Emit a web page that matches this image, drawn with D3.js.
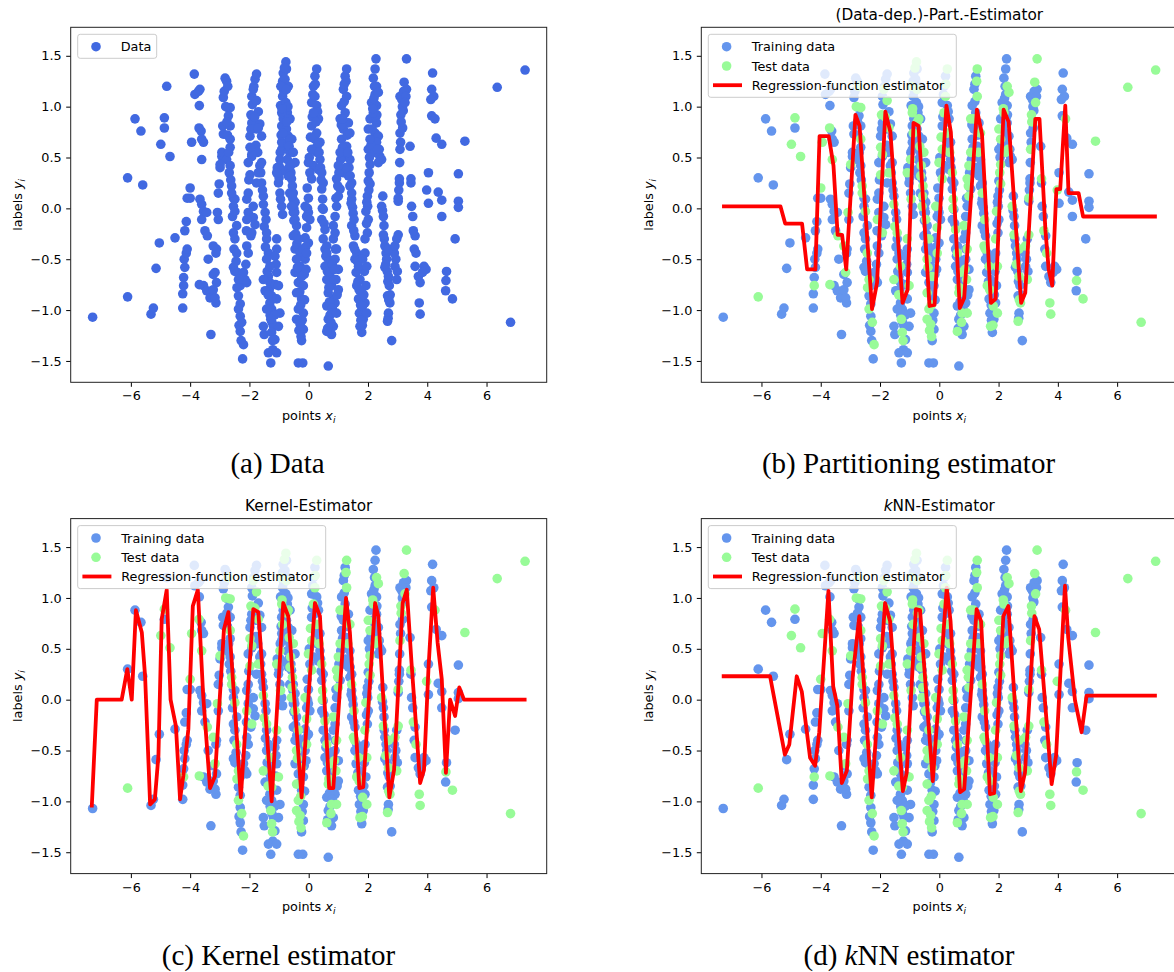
<!DOCTYPE html>
<html lang="en">
<head>
<meta charset="UTF-8">
<title>Regression estimators</title>
<script src="https://cdn.jsdelivr.net/npm/d3@7"></script>
<style>
  body { margin: 0; background: #fff; }
</style>
</head>
<body>
<svg id="fig" width="1174" height="972"></svg>
<script>
// training points [x, y]
const trainData = [
  [-7.29,-1.07],[-6.11,0.30],[-5.86,0.88],[-5.66,0.76],[-5.60,0.23],[-5.32,-1.04],[-5.24,-0.98],[-5.15,-0.59],[-5.04,-0.34],[-4.87,0.79],[-4.79,1.20],[-4.51,-0.29],
  [-4.25,-0.98],[-4.25,-0.84],[-4.22,-0.68],[-4.18,-0.58],[-4.20,-0.50],[-4.13,-0.44],[-4.10,-0.40],[-4.18,-0.22],[-4.13,-0.13],[-4.10,0.10],[-4.00,0.10],
  [-3.86,1.32],[-3.84,1.12],[-3.72,1.15],[-3.67,1.17],[-3.69,1.01],[-3.63,0.76],[-3.61,0.68],[-3.55,0.65],[-3.67,0.09],[-3.61,0.04],[-3.55,-0.03],[-3.61,-0.11],[-3.44,-0.04],[-3.50,-0.22],[-3.39,-0.50],[-3.55,-0.76],[-3.44,-0.81],[-3.33,-0.88],[-3.30,-1.24],
  [-3.22,-0.65],[-3.11,-0.73],[-3.22,-0.80],[-3.13,-0.93],[-3.16,-0.88],[-3.11,-0.40],[-3.13,-0.44],[-3.05,-0.11],[-3.05,0.15],[-3.02,0.24],[-2.99,0.40],[-2.93,0.51],[-2.93,0.55],[-2.88,0.73],[-2.90,0.81],[-2.88,1.09],[-2.82,1.28],[-2.77,1.25],
  [-2.73,0.99],[-2.71,0.91],[-2.65,0.81],[-2.65,0.60],[-2.77,0.48],[-2.65,0.42],[-2.54,0.10],[-2.49,0.09],[-2.54,0.02],[-2.43,-0.17],[-2.54,-0.24],[-2.49,-0.30],[-2.54,-0.58],[-2.49,-0.62],[-2.40,-0.63],[-2.31,-0.76],[-2.37,-0.86],[-2.31,-0.94],[-2.31,-1.06],[-2.31,-1.21],[-2.23,-1.48],
  [-2.85,1.15],[-2.76,0.85],[-2.74,0.72],[-2.70,0.55],[-2.68,0.35],[-2.63,0.28],[-2.57,-0.08],[-2.52,-0.40],[-2.45,-0.52],[-2.35,-1.15],[-2.28,-1.30],
  [-2.09,-0.73],[-2.15,-0.70],[-2.20,-0.63],[-2.09,-0.37],[-2.04,-0.04],[-2.09,0.09],[-2.04,0.15],[-2.04,0.45],[-1.92,0.51],[-1.98,0.71],[-1.92,0.84],[-1.90,1.02],[-1.92,1.10],[-1.81,1.27],[-1.76,1.32],[-1.87,-0.09],[-1.95,-0.27],[-2.04,-0.44],[-1.81,-0.16],[-1.87,0.02],[-1.76,0.25],[-1.65,0.42],[-1.59,0.45],[-1.76,0.78],[-1.65,0.83],[-1.59,0.71],[-1.70,0.95],
  [-2.12,-0.55],[-2.10,-0.22],[-2.02,0.28],[-1.95,0.78],[-1.85,1.20],[-1.78,0.62],[-1.72,0.55],
  [-1.59,0.25],[-1.53,0.12],[-1.47,-0.04],[-1.44,-0.11],[-1.42,-0.30],[-1.36,-0.44],[-1.42,-0.50],[-1.36,-0.67],[-1.31,-0.73],[-1.33,-0.80],[-1.31,-0.93],[-1.25,-0.99],[-1.19,-1.03],[-1.19,-1.16],[-1.14,-1.29],[-1.21,-1.39],[-1.36,-1.42],[-1.08,-1.42],[-1.28,-1.52],[-1.47,-0.81],[-1.42,-0.99],[-1.08,-0.40],[-1.14,-0.47],[-1.08,-0.63],[-1.08,-0.89],[-0.97,-1.03],[-1.02,-1.16],[-1.53,-1.16],[-1.50,-1.24],
  [-1.62,0.35],[-1.56,0.18],[-1.46,-0.38],[-1.40,-0.62],[-1.30,-1.05],[-1.24,-1.12],[-1.15,-1.05],[-1.12,-0.75],[-1.10,-0.55],
  [-1.06,0.40],[-1.02,0.25],[-0.97,0.15],[-0.91,0.02],[-0.88,-0.06],[-0.99,0.41],[-0.91,0.58],[-0.91,0.65],[-0.91,0.81],[-0.86,0.88],[-0.95,1.01],[-0.88,1.10],[-0.88,1.25],[-0.86,1.33],[-0.75,1.37],[-0.80,1.27],[-0.77,1.04],[-0.72,0.94],[-0.75,0.78],[-0.69,0.71],[-0.64,0.55],[-0.72,0.48],[-0.69,0.32],[-0.58,0.29],[-0.64,0.15],[-0.53,0.09],[-0.47,-0.04],
  [-0.69,1.20],[-0.63,0.88],[-0.57,0.68],[-0.46,0.45],[-0.86,0.37],[-0.52,0.15],[-0.46,0.06],
  [-1.00,0.30],[-0.96,0.55],[-0.93,0.72],[-0.84,1.15],[-0.78,1.18],[-0.70,0.62],[-0.67,0.40],[-0.60,0.35],[-0.50,0.00],[-0.62,0.68],[-0.70,1.00],
  [-0.52,-0.04],[-0.41,-0.17],[-0.52,-0.27],[-0.46,-0.40],[-0.29,-0.44],[-0.29,-0.57],[-0.46,-0.63],[-0.35,-0.73],[-0.18,-0.76],[-0.24,-0.89],[-0.18,-1.03],[-0.18,-1.19],[-0.24,-1.30],[-0.35,-1.52],[-0.20,-1.52],
  [-0.50,-0.12],[-0.44,-0.25],[-0.40,-0.35],[-0.33,-0.62],[-0.30,-0.82],[-0.22,-1.10],[-0.20,-0.40],[-0.15,-0.65],[-0.14,-0.90],
  [-0.01,0.10],[-0.07,-0.08],[-0.01,-0.04],[0.04,-0.11],[-0.12,-0.29],[-0.01,-0.34],[-0.12,-0.50],[-0.09,-0.60],[0.21,1.30],[0.16,1.20],[0.10,1.04],[0.27,1.01],[0.33,0.88],[0.10,0.81],[0.21,0.68],[0.38,0.65],[0.27,0.55],[0.38,0.48],[0.16,0.42],[0.04,0.35],[0.33,0.38],[0.49,0.25],[0.44,0.19],[0.49,-0.01],[0.44,-0.11],[0.49,-0.30],[0.55,-0.40],[0.61,-0.37],
  [-0.05,0.20],[0.02,0.50],[0.12,0.90],[0.14,1.12],[0.30,0.95],[0.25,0.85],[0.18,0.58],[0.30,0.62],[0.40,0.40],[0.42,0.28],[0.52,-0.15],[-0.04,0.00],[-0.10,-0.38],
  [0.66,-0.50],[0.55,-0.57],[0.61,-0.70],[0.77,-0.76],[0.83,-0.89],[0.61,-0.96],[0.66,-1.09],[0.83,-1.16],[0.77,-1.24],[0.83,-0.30],[0.89,-0.50],[1.00,-0.60],[1.00,-0.80],[0.89,-0.93],[0.66,-1.55],[0.72,-1.21],
  [0.58,-0.47],[0.63,-0.62],[0.70,-0.92],[0.72,-1.05],[0.80,-0.98],[0.85,-0.70],[0.90,-0.40],[0.96,-0.85],[0.64,-1.18],[0.80,-0.55],
  [1.23,1.30],[1.17,1.17],[1.11,1.01],[1.23,0.94],[1.34,0.84],[1.17,0.78],[1.11,0.68],[1.28,0.61],[1.23,0.51],[1.39,0.48],[1.17,0.35],[1.34,0.32],[1.45,0.25],[1.06,0.19],[0.94,0.02],[0.89,-0.08],[0.89,-0.24],
  [0.92,0.10],[1.02,0.35],[1.08,0.48],[1.14,0.60],[1.20,1.05],[1.20,1.22],[1.30,0.72],[1.36,0.40],[1.25,0.40],[1.10,0.82],[1.40,0.32],
  [1.39,0.22],[1.45,0.09],[1.48,0.01],[1.45,-0.17],[1.56,-0.27],[1.62,-0.44],[1.56,-0.50],[1.60,-0.63],[1.73,-0.70],[1.79,-0.83],[1.68,-0.89],[1.71,-1.03],[1.84,-1.09],[1.79,-1.22],[1.90,-0.44],[1.93,-0.76],[1.90,-0.93],
  [1.43,0.05],[1.50,-0.05],[1.52,-0.22],[1.64,-0.52],[1.66,-0.72],[1.75,-0.95],[1.76,-1.10],[1.86,-0.85],[1.88,-0.62],[1.82,-0.50],
  [2.27,1.47],[2.24,1.37],[2.18,1.28],[2.24,1.12],[2.12,1.04],[2.29,1.01],[2.07,0.88],[2.29,0.84],[2.24,0.74],[2.35,0.71],[2.29,0.65],[2.01,0.58],[2.40,0.51],[2.46,0.48],[2.35,0.45],[2.01,0.27],[1.98,0.12],[1.96,0.06],[2.01,-0.11],[1.98,-0.24],
  [1.95,-0.15],[1.99,0.02],[2.03,0.18],[2.05,0.50],[2.10,0.62],[2.14,0.78],[2.20,1.08],[2.22,1.20],[2.26,0.90],[2.30,0.92],[2.38,0.58],
  [2.50,0.12],[2.52,-0.08],[2.54,-0.17],[2.57,-0.37],[2.61,-0.44],[2.63,-0.50],[2.57,-0.58],[2.72,-0.76],[2.66,-0.86],[2.69,-1.03],[2.80,-1.30],[2.91,-0.57],[2.89,-0.44],[2.97,-0.30],
  [2.49,-0.02],[2.55,-0.30],[2.65,-0.62],[2.67,-0.72],[2.75,-0.85],[2.68,-1.08],[2.94,-0.50],[2.99,-0.62],
  [3.02,0.07],[3.06,0.25],[3.06,0.29],[3.08,0.74],[3.17,0.79],[3.19,0.96],[3.14,1.07],[3.08,1.10],[3.30,1.17],[3.45,0.25],[3.42,0.61],
  [3.04,0.18],[3.07,0.45],[3.10,0.65],[3.16,1.00],[3.20,1.15],[3.28,1.10],
  [3.47,0.02],[3.51,-0.08],[3.59,-0.27],[3.56,-0.40],[3.59,-0.57],[3.70,-0.67],[3.76,-0.73],[3.89,-0.57],[3.96,-0.60],[3.84,-0.63],
  [4.18,1.33],[4.15,1.17],[4.22,1.10],[4.12,1.07],[4.15,0.91],[4.30,0.69],[4.49,0.63],[4.04,0.35],[4.04,0.05],[4.37,0.16],[4.49,0.08],[4.49,-0.08],[5.05,0.34],[5.05,0.07],[5.05,0.01],[4.94,-0.30],[4.65,-0.62],[4.62,-0.81]
];

// test points [x, y]
const testData = [
  [-6.11,-0.87],[-4.99,0.63],[-4.87,0.89],[-4.68,0.51],[-4.22,-0.76],[-4.00,0.20],[-3.70,0.79],[-3.95,0.65],[-3.61,0.48],[-3.42,-0.27],[-3.69,-0.75],
  [-3.16,-0.63],[-3.22,-0.37],[-3.08,-0.04],[-2.99,0.43],[-2.73,1.20],
  [-2.65,0.99],[-2.65,0.68],[-2.60,0.22],[-2.49,-0.03],[-2.43,-0.44],[-2.37,-0.70],[-2.37,-0.99],[-2.26,-1.12],[-2.20,-1.34],
  [-2.80,1.00],[-2.60,0.15],[-2.42,-0.78],
  [-2.09,-0.11],[-1.98,0.33],[-1.92,0.53],[-1.95,0.92],[-1.87,1.17],[-1.92,-0.24],[-1.70,0.35],[-1.70,0.79],[-1.76,1.06],
  [-1.98,0.60],[-1.82,0.90],
  [-1.53,0.04],[-1.42,-0.24],[-1.31,-0.57],[-1.25,-0.86],[-1.28,-1.09],[-1.25,-1.22],[-1.53,-0.70],[-1.08,-0.30],[-1.02,-0.76],
  [-1.50,-0.18],[-1.37,-0.85],[-1.22,-1.30],
  [-1.08,0.35],[-0.95,0.09],[-0.97,0.48],[-0.88,0.74],[-0.91,0.94],[-0.94,1.20],[-0.77,1.44],[-0.75,1.17],[-0.69,0.88],[-0.66,0.61],[-0.61,0.42],[-0.55,0.22],[-0.58,0.02],
  [-0.52,0.55],[-0.63,0.32],[-0.90,0.98],[-0.74,0.85],[-0.56,0.12],[-0.82,1.38],
  [-0.46,-0.11],[-0.35,-0.30],[-0.41,-0.50],[-0.24,-0.67],[-0.41,-0.83],[-0.35,-0.99],[-0.41,-1.09],[-0.29,-1.14],[-0.26,-1.26],
  [-0.38,-0.58],[-0.27,-0.95],[-0.33,-1.20],
  [-0.12,0.02],[-0.07,-0.19],[-0.07,-0.44],[0.27,1.37],[0.21,1.10],[0.16,0.94],[0.27,0.74],[0.10,0.58],[-0.01,0.45],[0.10,0.29],[0.44,0.35],[0.47,0.09],[0.55,-0.21],
  [0.06,0.70],[0.22,1.22],[0.35,0.55],[0.46,0.00],
  [0.61,-0.44],[0.72,-0.63],[0.66,-0.83],[0.77,-1.03],[0.61,-1.21],[0.94,-0.40],[0.92,-0.70],[0.94,-1.03],
  [0.68,-0.78],[0.75,-1.12],[0.87,-0.60],
  [1.28,1.37],[1.28,1.10],[1.06,0.88],[1.39,0.74],[1.06,0.55],[1.00,0.42],[0.94,0.29],[1.00,0.12],[0.83,-0.17],
  [0.98,0.22],[1.15,0.88],[1.26,1.25],[1.32,0.55],
  [1.45,0.15],[1.53,-0.11],[1.51,-0.37],[1.68,-0.57],[1.62,-0.76],[1.82,-0.96],[1.73,-1.16],[1.96,-0.57],[1.96,-1.03],
  [1.55,-0.40],[1.70,-0.80],[1.81,-1.15],
  [2.29,1.20],[2.35,1.14],[2.18,0.94],[2.01,0.78],[2.07,0.68],[2.24,0.55],[2.07,0.43],[2.07,0.24],[1.93,-0.03],[1.90,-0.30],
  [2.04,0.35],[2.16,0.98],[2.32,0.58],
  [2.46,0.02],[2.52,-0.26],[2.69,-0.40],[2.69,-0.67],[2.74,-0.93],[2.66,-1.11],[2.97,-0.70],[2.91,-0.37],[3.02,-0.26],
  [2.60,-0.55],[2.70,-0.90],
  [3.02,0.10],[3.08,0.58],[3.11,0.92],[3.25,1.04],[3.22,1.24],[3.30,1.47],[3.45,0.29],[3.12,0.85],
  [3.53,-0.22],[3.62,-0.44],[3.73,-0.93],[3.76,-1.04],
  [4.26,0.88],[5.27,0.66],[3.98,0.18],[4.63,-0.71],[4.85,-0.89],[7.30,1.36],[6.36,1.19],[6.81,-1.12]
];

// regression-function estimators (vertices of the drawn curves)
const partX = [-7.33,-5.36,-5.20,-4.63,-4.46,-4.18,-4.04,-3.73,-3.57,-3.43,-3.28,-3.14,-2.83,-2.69,-2.27,-2.10,-1.82,-1.65,-1.24,-1.07,-0.87,-0.70,-0.33,-0.16,0.24,0.39,0.69,0.84,1.27,1.44,1.74,1.90,2.17,2.34,2.76,2.90,3.24,3.38,3.58,3.69,3.81,3.95,4.08,4.25,4.36,4.70,4.85,7.34];
const partY = [0.02,0.02,-0.15,-0.15,-0.60,-0.60,0.71,0.71,0.42,-0.26,-0.26,-0.60,0.92,0.81,-0.99,-0.73,0.95,0.75,-0.93,-0.80,0.84,0.81,-0.96,-0.95,1.01,0.75,-0.98,-0.88,0.97,0.73,-0.93,-0.89,0.97,0.85,-0.93,-0.83,0.88,0.88,-0.21,-0.60,-0.76,0.19,0.19,1.01,0.15,0.15,-0.08,-0.08];

const kernelX = [-7.32,-7.15,-6.31,-6.12,-5.97,-5.83,-5.63,-5.52,-5.35,-5.19,-5.07,-4.96,-4.79,-4.66,-4.48,-4.34,-4.23,-4.06,-3.91,-3.74,-3.56,-3.33,-3.16,-2.86,-2.71,-2.29,-1.87,-1.70,-1.25,-0.86,-0.69,-0.24,0.21,0.38,0.69,0.83,1.26,1.39,1.71,1.84,2.24,2.35,2.72,2.88,3.17,3.31,3.47,3.76,3.89,4.04,4.20,4.35,4.49,4.63,4.77,4.94,5.08,5.24,7.35];
const kernelY = [-1.06,0,0,0.30,0,0.88,0.66,0.23,-1.03,-0.98,-0.55,0.79,1.08,0,-0.26,-0.98,-0.75,-0.29,0.92,1.08,0.04,-0.87,-0.75,0.69,0.86,-0.96,0.89,0.86,-1.00,0.95,0.82,-0.96,0.95,0.82,-0.87,-0.87,1.00,0.66,-0.87,-0.86,0.95,0.82,-0.96,-0.69,0.95,1.08,0.36,-0.82,-0.69,0.30,1.10,0.56,0.20,-0.72,0,-0.16,0.12,0,0];

const knnX = [-7.34,-5.71,-5.21,-5.06,-4.81,-4.64,-4.36,-4.19,-4.05,-3.74,-3.58,-3.44,-3.29,-3.12,-2.92,-2.70,-2.28,-1.83,-1.66,-1.23,-1.10,-0.79,-0.65,-0.22,0.25,0.38,0.70,0.84,1.26,1.41,1.71,1.85,2.16,2.33,2.75,2.89,3.21,3.37,3.79,3.94,4.24,4.35,4.58,4.80,4.97,7.34];
const knnY = [0.23,0.23,-0.54,-0.44,0.23,0.08,-0.57,-0.65,-0.32,1.07,0.13,-0.06,-0.82,-0.70,0.23,0.82,-0.96,0.95,0.77,-0.90,-0.72,0.89,0.88,-0.80,1.10,0.77,-0.91,-0.88,0.89,0.77,-0.93,-0.92,0.82,0.92,-0.90,-0.72,0.82,0.69,-0.83,-0.55,1.12,0.61,-0.01,-0.32,0.04,0.04];

const xTicks = [-6, -4, -2, 0, 2, 4, 6];
const yTicks = [-1.5, -1, -0.5, 0, 0.5, 1, 1.5];

const svg = d3.select("#fig");
const W = 476, H = 355;
const R = 4.8;
const tickFont = "'DejaVu Sans', sans-serif";

function subLabel(g, word, sym) {
  // "points x_i" style label with italic symbol and subscript i
  g.append("tspan").text(word + " ");
  g.append("tspan").attr("font-style", "italic").text(sym);
  g.append("tspan").attr("font-style", "italic").attr("font-size", "9px").attr("dy", 3).text("i");
}

function drawPanel(cfg, idx) {
  const { left, top } = cfg;
  const x = d3.scaleLinear().domain([-8.03, 8.03]).range([left, left + W]);
  const y = d3.scaleLinear().domain([-1.71, 1.78]).range([top + H, top]);

  const clipId = "clip" + idx;
  svg.append("clipPath").attr("id", clipId)
    .append("rect").attr("x", left).attr("y", top).attr("width", W).attr("height", H);

  const plot = svg.append("g").attr("clip-path", `url(#${clipId})`);

  if (cfg.kind === "data") {
    plot.selectAll(null).data(trainData.concat(testData)).enter().append("circle")
      .attr("cx", d => x(d[0])).attr("cy", d => y(d[1])).attr("r", R)
      .attr("fill", "#4169E1");
  } else {
    plot.selectAll(null).data(trainData).enter().append("circle")
      .attr("cx", d => x(d[0])).attr("cy", d => y(d[1])).attr("r", R)
      .attr("fill", "#6495ED");
    plot.selectAll(null).data(testData).enter().append("circle")
      .attr("cx", d => x(d[0])).attr("cy", d => y(d[1])).attr("r", R)
      .attr("fill", "#98FB98");
    const pts = cfg.lx.map((v, i) => [v, cfg.ly[i]]);
    plot.append("path")
      .attr("d", d3.line().x(d => x(d[0])).y(d => y(d[1]))(pts))
      .attr("fill", "none").attr("stroke", "#FF0000")
      .attr("stroke-width", 3.8).attr("stroke-linejoin", "round");
  }

  // axes
  const xa = svg.append("g").attr("transform", `translate(0,${top + H})`)
    .call(d3.axisBottom(x).tickValues(xTicks).tickSize(4.5).tickPadding(4.5).tickFormat(d3.format("d")));
  const ya = svg.append("g").attr("transform", `translate(${left},0)`)
    .call(d3.axisLeft(y).tickValues(yTicks).tickSize(4.5).tickPadding(4.5).tickFormat(d3.format(".1f")));
  [xa, ya].forEach(a => {
    a.select(".domain").remove();
    a.selectAll("line").attr("stroke", "#000").attr("stroke-width", 1);
    a.selectAll("text").attr("font-family", tickFont).attr("font-size", "12.8px").attr("fill", "#000");
  });

  // spines
  svg.append("rect").attr("x", left).attr("y", top).attr("width", W).attr("height", H)
    .attr("fill", "none").attr("stroke", "#222").attr("stroke-width", 1);

  // axis labels
  const xl = svg.append("text").attr("x", left + W / 2).attr("y", top + H + 37.7)
    .attr("text-anchor", "middle").attr("font-family", tickFont).attr("font-size", "12.8px");
  subLabel(xl, "points", "x");
  const yl = svg.append("text")
    .attr("transform", `translate(${left - 48.7},${top + H / 2}) rotate(-90)`)
    .attr("text-anchor", "middle").attr("font-family", tickFont).attr("font-size", "12.8px");
  subLabel(yl, "labels", "y");

  // title
  if (cfg.title) {
    const t = svg.append("text").attr("x", left + W / 2).attr("y", top - 7.7)
      .attr("text-anchor", "middle").attr("font-family", tickFont).attr("font-size", "15.3px");
    cfg.title.forEach(p => t.append("tspan").attr("font-style", p.it ? "italic" : null).text(p.s));
  }

  // legend
  const lg = svg.append("g");
  if (cfg.kind === "data") {
    lg.append("rect").attr("x", left + 7).attr("y", top + 7).attr("width", 79).attr("height", 24)
      .attr("rx", 2.5).attr("fill", "#fff").attr("fill-opacity", 0.8).attr("stroke", "#cccccc");
    lg.append("circle").attr("cx", left + 25.3).attr("cy", top + 19.4).attr("r", R).attr("fill", "#4169E1");
    lg.append("text").attr("x", left + 50).attr("y", top + 19.4 + 4.6)
      .attr("font-family", tickFont).attr("font-size", "12.8px").text("Data");
  } else {
    lg.append("rect").attr("x", left + 7).attr("y", top + 7).attr("width", 248).attr("height", 63)
      .attr("rx", 2.5).attr("fill", "#fff").attr("fill-opacity", 0.8).attr("stroke", "#cccccc");
    const rows = [19.4, 38.7, 57.9];
    lg.append("circle").attr("cx", left + 25.3).attr("cy", top + rows[0]).attr("r", R).attr("fill", "#6495ED");
    lg.append("circle").attr("cx", left + 25.3).attr("cy", top + rows[1]).attr("r", R).attr("fill", "#98FB98");
    lg.append("line").attr("x1", left + 11.7).attr("x2", left + 40.7)
      .attr("y1", top + rows[2]).attr("y2", top + rows[2])
      .attr("stroke", "#FF0000").attr("stroke-width", 3.8);
    ["Training data", "Test data", "Regression-function estimator"].forEach((s, i) => {
      lg.append("text").attr("x", left + 50.5).attr("y", top + rows[i] + 4.6)
        .attr("font-family", tickFont).attr("font-size", "12.8px").text(s);
    });
  }

  // caption
  const cap = svg.append("text").attr("x", cfg.capX).attr("y", top + H + 91)
    .attr("text-anchor", "middle").attr("font-family", "'Liberation Serif', 'Times New Roman', serif")
    .attr("font-size", "29px");
  cfg.caption.forEach(p => cap.append("tspan").attr("font-style", p.it ? "italic" : null).text(p.s));
}

const panels = [
  { kind: "data", left: 70.7, top: 27.3, capX: 277.5, caption: [{ s: "(a) Data" }] },
  { kind: "est", left: 701.3, top: 27.3, capX: 908.5, lx: partX, ly: partY,
    title: [{ s: "(Data-dep.)-Part.-Estimator" }], caption: [{ s: "(b) Partitioning estimator" }] },
  { kind: "est", left: 70.7, top: 518.6, capX: 278.5, lx: kernelX, ly: kernelY,
    title: [{ s: "Kernel-Estimator" }], caption: [{ s: "(c) Kernel estimator" }] },
  { kind: "est", left: 701.3, top: 518.6, capX: 909, lx: knnX, ly: knnY,
    title: [{ s: "k", it: true }, { s: "NN-Estimator" }], caption: [{ s: "(d) " }, { s: "k", it: true }, { s: "NN estimator" }] }
];

panels.forEach(drawPanel);
</script>
</body>
</html>
